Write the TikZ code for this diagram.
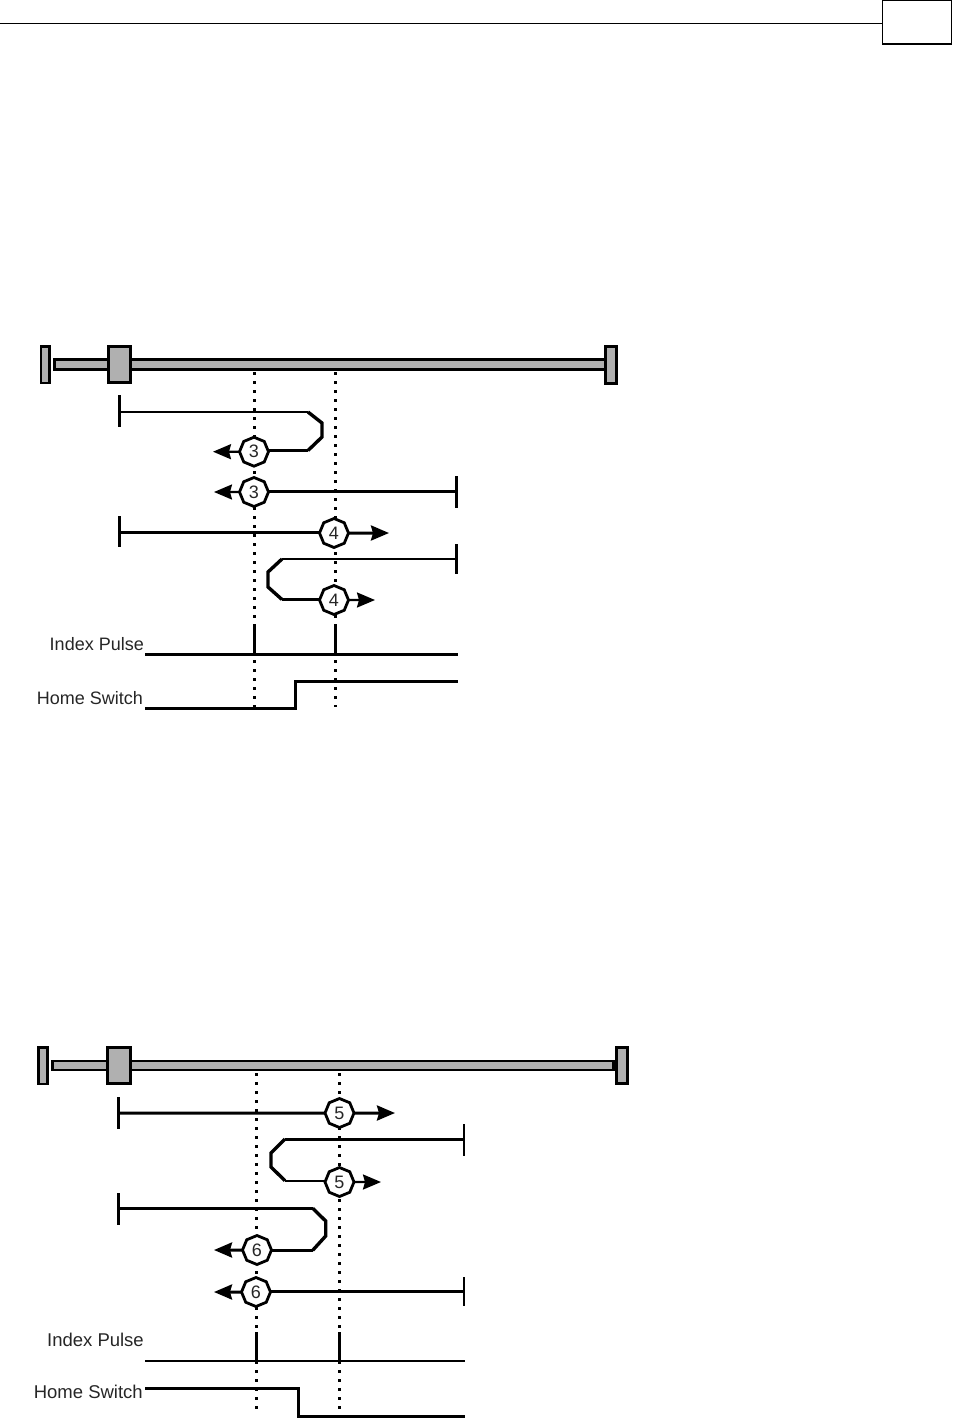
\documentclass[tikz,border=0pt]{standalone}
\usepackage{fontspec}
\setmainfont{Liberation Sans}
\usetikzlibrary{arrows.meta,shapes.geometric}
\definecolor{bargray}{HTML}{B0B0B0}
\tikzset{
  part/.style={draw=black,fill=bargray,rectangle,inner sep=0pt,outer sep=0pt,line width=3pt},
  hdrbox/.style={draw=black,fill=white,rectangle,inner sep=0pt,outer sep=0pt,line width=1.4pt},
  hdrline/.style={line width=1.2pt},
  dots/.style={line width=3pt,dash pattern=on 2.8pt off 6.2pt},
  run/.style={line width=3pt,line join=miter},
  thin run/.style={line width=2.2pt,line join=miter},
  bend run/.style={line width=3.4pt,line join=miter},
  tickmark/.style={line width=2.4pt},
  spike/.style={line width=3pt},
  sigline/.style={line width=2.4pt},
  swline/.style={line width=3pt,line join=miter},
  head/.style={-{Stealth[length=18pt,width=15pt,inset=2pt]}},
  badge/.style={draw=black,fill=white,regular polygon,regular polygon sides=8,shape border rotate=22.5,
    minimum size=29pt,inner sep=0pt,outer sep=0pt,line width=2.8pt,font=\fontsize{18}{18}\selectfont,text=black!85},
  siglabel/.style={anchor=east,inner sep=0pt,font=\fontsize{18}{18}\selectfont,text=black!85},
  siglabel wide/.style={siglabel,font=\fontsize{18.5}{18.5}\selectfont},
}
\begin{document}
\begin{tikzpicture}[x=1pt,y=-1pt]
\useasboundingbox (0,0) rectangle (953,1422);
% page header
\node[hdrbox,minimum width=68.5pt,minimum height=44pt] (hbox) at (917,22) {};
\coordinate (hl) at (0,23.5);
\draw[hdrline] (hl) -- (hl -| hbox.west);

% ===== first diagram =====
\coordinate (d1a) at (254.5,372); \coordinate (d1ae) at (254.5,707);
\coordinate (d1b) at (335.8,372);   \coordinate (d1be) at (335.8,707);
\draw[dots] (d1a) -- (d1ae);
\draw[dots] (d1b) -- (d1be);
\node[part,minimum width=550.5pt,minimum height=10pt] (rodA) at (329.75,364.5) {};
\node[part,line width=2.5pt,minimum width=8.2pt,minimum height=36.5pt] (stopAl) at (45.3,364.5) {};
\node[part,minimum width=11pt,minimum height=37pt] (stopAr) at (611,365) {};
\node[part,minimum width=22pt,minimum height=36pt] (sliderA) at (119.5,364.5) {};

% row 3 upper
\coordinate (a1t) at (119.5,395); \coordinate (a1b) at (119.5,427); \coordinate (a1m) at (119.5,412);
\draw[tickmark] (a1t) -- (a1b);
\node[badge] (a3u) at (254,451.7) {3};
\coordinate (a3ue) at (213,451.7);
\coordinate (a1c1) at (308,412); \coordinate (a1c2) at (322,423); \coordinate (a1c3) at (322,437); \coordinate (a1c4) at (308,450.5);
\draw[thin run] (a1m) -- (a1c1);
\draw[bend run] (a1c1) -- (a1c2) -- (a1c3) -- (a1c4);
\draw[run] (a1c4) -- (a3u.east |- a1c4);
\draw[thin run,head] (a3u.west) -- (a3ue);
% row 3 lower
\coordinate (a2t) at (456.5,476); \coordinate (a2b) at (456.5,508); \coordinate (a2m) at (456.5,491.5);
\draw[tickmark] (a2t) -- (a2b);
\node[badge] (a3l) at (254,492) {3};
\coordinate (a3le) at (214,492);
\draw[thin run] (a2m) -- (a3l.east |- a2m);
\draw[thin run,head] (a3l.west) -- (a3le);
% row 4 upper
\coordinate (a3t) at (119.5,516); \coordinate (a3b) at (119.5,547); \coordinate (a3m) at (119.5,532.5);
\draw[tickmark] (a3t) -- (a3b);
\node[badge] (a4u) at (334,533) {4};
\coordinate (a4ue) at (389,533);
\draw[run] (a3m) -- (a4u.west |- a3m);
\draw[run,head] (a4u.east) -- (a4ue);
% row 4 lower
\coordinate (a4t) at (456.5,544); \coordinate (a4b) at (456.5,574); \coordinate (a4m) at (456.5,559);
\draw[tickmark] (a4t) -- (a4b);
\node[badge] (a4l) at (334,600) {4};
\coordinate (a4le) at (375,600);
\coordinate (a4c1) at (282,559); \coordinate (a4c2) at (268,572); \coordinate (a4c3) at (268,587); \coordinate (a4c4) at (282,599.5);
\draw[thin run] (a4m) -- (a4c1);
\draw[bend run] (a4c1) -- (a4c2) -- (a4c3) -- (a4c4);
\draw[thin run] (a4c4) -- (a4l.west |- a4c4);
\draw[thin run,head] (a4l.east) -- (a4le);
% signals
\node[siglabel] (aIdx) at (144,644) {Index Pulse};
\node[siglabel] (aHome) at (143,698) {Home Switch};
\coordinate (ai0) at (145,654.5); \coordinate (ai1) at (458,654.5);
\coordinate (as1) at (254.5,626); \coordinate (as2) at (335.8,626);
\draw[sigline] (ai0) -- (ai1);
\draw[spike] (as1) -- (as1 |- ai0);
\draw[spike] (as2) -- (as2 |- ai0);
\coordinate (ah0) at (145,708.5); \coordinate (ah1) at (295,708.5); \coordinate (ah2) at (295,681.8); \coordinate (ah3) at (458,681.8);
\draw[swline] (ah0) -- (ah1) -- (ah2) -- (ah3);

% ===== second diagram =====
\coordinate (d2a) at (256.5,1073); \coordinate (d2ae) at (256.5,1412);
\coordinate (d2b) at (339.5,1073); \coordinate (d2be) at (339.5,1412);
\draw[dots] (d2a) -- (d2ae);
\draw[dots] (d2b) -- (d2be);
\node[part,line width=2.2pt,minimum width=561pt,minimum height=9pt] (rodB) at (333,1065.6) {};
\node[part,line width=2.5pt,minimum width=8.9pt,minimum height=36.5pt] (stopBl) at (43,1065.5) {};
\node[part,line width=2.6pt,minimum width=11pt,minimum height=36.5pt] (stopBr) at (622,1065.5) {};
\node[part,minimum width=22.5pt,minimum height=36pt] (sliderB) at (118.75,1065.5) {};

% row 5 upper
\coordinate (b1t) at (118.5,1097); \coordinate (b1b) at (118.5,1129); \coordinate (b1m) at (118.5,1113);
\draw[tickmark] (b1t) -- (b1b);
\node[badge] (b5u) at (339.5,1113) {5};
\coordinate (b5ue) at (395,1113);
\draw[run] (b1m) -- (b5u.west);
\draw[run,head] (b5u.east) -- (b5ue);
% row 5 lower
\coordinate (b2t) at (464,1124); \coordinate (b2b) at (464,1156); \coordinate (b2m) at (464,1139);
\draw[tickmark] (b2t) -- (b2b);
\node[badge] (b5l) at (339.5,1182) {5};
\coordinate (b5le) at (381,1182);
\coordinate (b2c1) at (285,1139); \coordinate (b2c2) at (271,1153); \coordinate (b2c3) at (271,1167); \coordinate (b2c4) at (285,1180.7);
\draw[run] (b2m) -- (b2c1);
\draw[bend run] (b2c1) -- (b2c2) -- (b2c3) -- (b2c4);
\draw[thin run] (b2c4) -- (b5l.west |- b2c4);
\draw[thin run,head] (b5l.east) -- (b5le);
% row 6 upper
\coordinate (b3t) at (118.5,1193); \coordinate (b3b) at (118.5,1225); \coordinate (b3m) at (118.5,1208.3);
\draw[tickmark] (b3t) -- (b3b);
\node[badge] (b6u) at (257,1250) {6};
\coordinate (b6ue) at (214,1250);
\coordinate (b3c1) at (312.7,1208.3); \coordinate (b3c2) at (325.7,1221); \coordinate (b3c3) at (325.7,1236); \coordinate (b3c4) at (312.7,1250.3);
\draw[run] (b3m) -- (b3c1);
\draw[bend run] (b3c1) -- (b3c2) -- (b3c3) -- (b3c4);
\draw[run] (b3c4) -- (b6u.east |- b3c4);
\draw[run,head] (b6u.west) -- (b6ue);
% row 6 lower
\coordinate (b4t) at (464,1277); \coordinate (b4b) at (464,1306); \coordinate (b4m) at (464,1291.5);
\draw[tickmark] (b4t) -- (b4b);
\node[badge] (b6l) at (256,1292) {6};
\coordinate (b6le) at (214,1292);
\draw[run] (b4m) -- (b6l.east |- b4m);
\draw[run,head] (b6l.west) -- (b6le);
% signals
\node[siglabel wide] (bIdx) at (144,1340) {Index Pulse};
\node[siglabel wide] (bHome) at (143,1391.5) {Home Switch};
\coordinate (bi0) at (145,1360.7); \coordinate (bi1) at (465,1360.7);
\coordinate (bs1) at (256.5,1332); \coordinate (bs2) at (339.5,1332);
\draw[sigline] (bi0) -- (bi1);
\draw[spike] (bs1) -- (bs1 |- bi0);
\draw[spike] (bs2) -- (bs2 |- bi0);
\coordinate (bh0) at (145,1388.2); \coordinate (bh1) at (298.5,1388.2); \coordinate (bh2) at (298.5,1416); \coordinate (bh3) at (465,1416);
\draw[swline] (bh0) -- (bh1) -- (bh2) -- (bh3);
\end{tikzpicture}
\end{document}
